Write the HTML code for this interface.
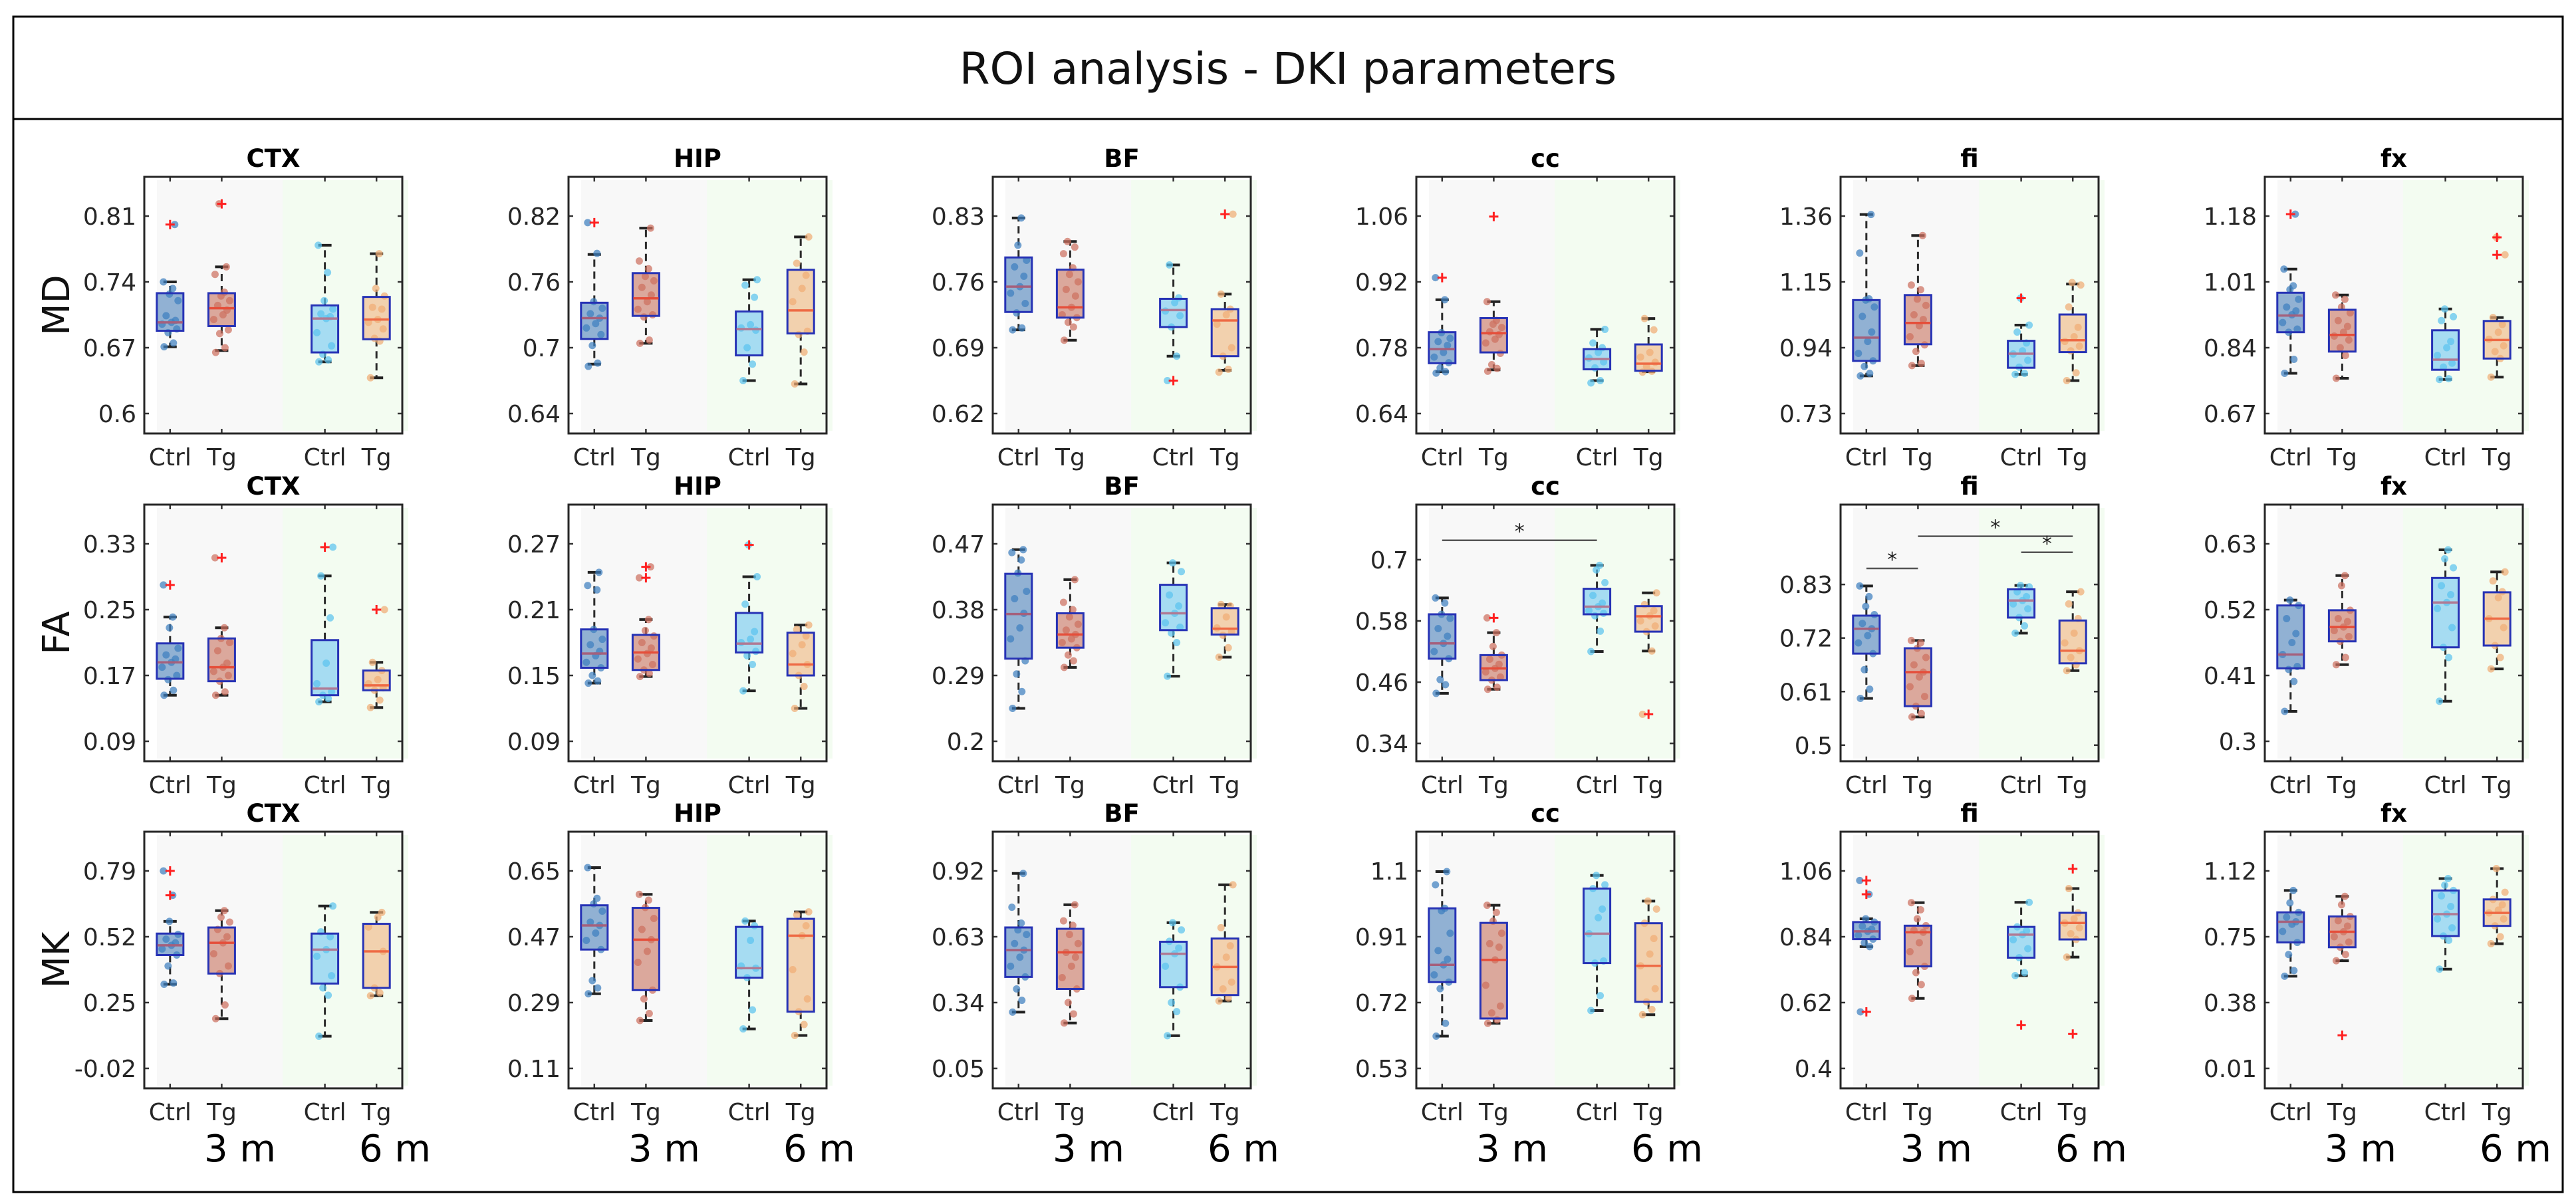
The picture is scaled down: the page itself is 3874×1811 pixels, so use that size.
<!DOCTYPE html>
<html><head><meta charset="utf-8"><title>ROI analysis - DKI parameters</title>
<style>
html,body{margin:0;padding:0;background:#fff;}
svg{display:block;font-family:"DejaVu Sans","Liberation Sans",sans-serif;}
</style></head>
<body>
<svg id="fig" width="3874" height="1811" viewBox="0 0 3874 1811" xmlns="http://www.w3.org/2000/svg">
<rect x="0" y="0" width="3874" height="1811" fill="#fff"/>
<rect x="20" y="25" width="3834" height="1768" fill="none" stroke="#000" stroke-width="3"/>
<line x1="20" y1="179" x2="3854" y2="179" stroke="#000" stroke-width="3"/>
<text x="1937" y="126" font-size="66" text-anchor="middle" fill="#111">ROI analysis - DKI parameters</text>
<g id="panels"></g>
</svg>
<script>
const regions=['CTX','HIP','BF','cc','fi','fx'];
const metrics=['MD','FA','MK'];
const groupLabels=['Ctrl','Tg','Ctrl','Tg'];
const groupPos=[1,2,4,5];
const ageLabels=['3 m','6 m'];

// tick labels per metric row, per region
const mdTicks=[['0.81','0.74','0.67','0.6'],['0.82','0.76','0.7','0.64'],['0.83','0.76','0.69','0.62'],['1.06','0.92','0.78','0.64'],['1.36','1.15','0.94','0.73'],['1.18','1.01','0.84','0.67']];
const faTicks=[['0.33','0.25','0.17','0.09'],['0.27','0.21','0.15','0.09'],['0.47','0.38','0.29','0.2'],['0.7','0.58','0.46','0.34'],['0.83','0.72','0.61','0.5'],['0.63','0.52','0.41','0.3']];
const mkTicks=[['0.79','0.52','0.25','-0.02'],['0.65','0.47','0.29','0.11'],['0.92','0.63','0.34','0.05'],['1.1','0.91','0.72','0.53'],['1.06','0.84','0.62','0.4'],['1.12','0.75','0.38','0.01']];
// explicit y limits where the axis differs from the default padding
const faLimits=[null,null,null,[0.305,0.808],[0.467,0.994],null];

// box stats: [whisker low, q1, median, q3, whisker high] for Ctrl3, Tg3, Ctrl6, Tg6
const mdStats=[
[[0.671,0.688,0.697,0.728,0.740],[0.667,0.693,0.712,0.728,0.756],[0.655,0.665,0.701,0.715,0.779],[0.638,0.679,0.700,0.724,0.770]],
[[0.685,0.708,0.727,0.741,0.785],[0.704,0.729,0.745,0.768,0.809],[0.670,0.693,0.717,0.733,0.762],[0.667,0.713,0.734,0.771,0.801]],
[[0.709,0.728,0.755,0.786,0.828],[0.698,0.722,0.733,0.773,0.803],[0.681,0.712,0.730,0.742,0.778],[0.666,0.681,0.719,0.731,0.747]],
[[0.729,0.747,0.777,0.813,0.882],[0.733,0.770,0.811,0.843,0.878],[0.710,0.734,0.756,0.777,0.819],[0.729,0.731,0.746,0.787,0.842]],
[[0.850,0.898,0.972,1.092,1.365],[0.883,0.951,1.019,1.108,1.298],[0.855,0.876,0.921,0.962,1.012],[0.835,0.926,0.964,1.046,1.143]],
[[0.774,0.880,0.923,0.982,1.043],[0.761,0.830,0.873,0.938,0.976],[0.758,0.783,0.809,0.885,0.940],[0.764,0.812,0.860,0.909,0.918]]];
const faStats=[
[[0.146,0.166,0.186,0.209,0.241],[0.146,0.163,0.180,0.215,0.228],[0.138,0.146,0.154,0.213,0.291],[0.131,0.152,0.158,0.176,0.186]],
[[0.143,0.157,0.170,0.192,0.244],[0.149,0.155,0.171,0.187,0.201],[0.136,0.171,0.179,0.207,0.240],[0.120,0.150,0.160,0.189,0.196]],
[[0.245,0.313,0.374,0.429,0.462],[0.301,0.328,0.346,0.375,0.421],[0.289,0.352,0.375,0.414,0.444],[0.315,0.346,0.354,0.382,0.387]],
[[0.438,0.506,0.536,0.593,0.625],[0.446,0.464,0.487,0.513,0.557],[0.520,0.593,0.608,0.643,0.689],[0.521,0.559,0.589,0.609,0.635]],
[[0.596,0.688,0.739,0.766,0.827],[0.558,0.580,0.650,0.699,0.715],[0.730,0.762,0.797,0.820,0.828],[0.653,0.668,0.694,0.756,0.815]],
[[0.350,0.422,0.445,0.527,0.536],[0.428,0.467,0.491,0.519,0.577],[0.367,0.457,0.532,0.573,0.620],[0.421,0.460,0.505,0.549,0.583]]];
const mkStats=[
[[0.325,0.445,0.485,0.533,0.583],[0.184,0.369,0.495,0.558,0.627],[0.112,0.328,0.467,0.533,0.646],[0.278,0.310,0.460,0.573,0.620]],
[[0.314,0.435,0.501,0.556,0.659],[0.241,0.324,0.462,0.549,0.586],[0.218,0.358,0.384,0.497,0.513],[0.200,0.265,0.473,0.519,0.538]],
[[0.298,0.453,0.571,0.671,0.909],[0.250,0.400,0.561,0.665,0.771],[0.194,0.408,0.555,0.608,0.692],[0.347,0.373,0.497,0.622,0.859]],
[[0.623,0.779,0.829,0.992,1.098],[0.660,0.674,0.843,0.950,1.001],[0.697,0.834,0.919,1.049,1.087],[0.685,0.722,0.826,0.949,1.013]],
[[0.807,0.832,0.858,0.889,0.900],[0.634,0.741,0.855,0.877,0.954],[0.710,0.770,0.847,0.873,0.955],[0.772,0.831,0.886,0.920,1.001]],
[[0.528,0.718,0.834,0.887,1.010],[0.615,0.691,0.778,0.864,0.977],[0.568,0.754,0.877,1.010,1.077],[0.711,0.811,0.884,0.960,1.133]]];

// outliers per box
const mdOutliers=[[[0.801],[0.823],[],[]],[[0.814],[],[],[]],[[],[],[0.655],[0.832]],[[0.929],[1.059],[],[]],[[],[],[1.098],[]],[[1.185],[],[],[1.125,1.080]]];
const faOutliers=[[[0.280],[0.313],[0.326],[0.250]],[[],[0.249,0.239],[0.269],[]],[[],[],[],[]],[[],[0.586],[],[0.397]],[[],[],[],[]],[[],[],[],[]]];
const mkOutliers=[[[0.79,0.69],[],[],[]],[[],[],[],[]],[[],[],[],[]],[[],[],[],[]],[[1.028,0.982,0.589],[],[0.545],[1.067,0.515]],[[],[0.196],[],[]]];

// individual animal values
const mdPoints=[
[[0.671,0.675,0.686,0.690,0.695,0.697,0.699,0.704,0.720,0.727,0.733,0.740,0.801],[0.665,0.670,0.685,0.689,0.700,0.705,0.710,0.715,0.720,0.725,0.729,0.748,0.756,0.823],[0.655,0.657,0.663,0.672,0.686,0.701,0.703,0.706,0.711,0.720,0.750,0.779],[0.638,0.677,0.680,0.690,0.697,0.700,0.711,0.713,0.725,0.733,0.770]],
[[0.683,0.686,0.702,0.712,0.718,0.722,0.727,0.731,0.736,0.742,0.786,0.814],[0.704,0.707,0.728,0.730,0.735,0.742,0.748,0.755,0.761,0.765,0.772,0.779,0.809],[0.670,0.685,0.700,0.716,0.718,0.721,0.746,0.757,0.762],[0.667,0.696,0.712,0.715,0.742,0.754,0.766,0.777,0.801]],
[[0.709,0.711,0.727,0.737,0.748,0.755,0.766,0.776,0.783,0.799,0.828],[0.698,0.712,0.717,0.722,0.725,0.733,0.745,0.752,0.760,0.768,0.775,0.790,0.797,0.803],[0.655,0.681,0.712,0.724,0.729,0.738,0.743,0.778],[0.664,0.667,0.681,0.690,0.715,0.725,0.731,0.747,0.832]],
[[0.726,0.729,0.737,0.748,0.760,0.770,0.785,0.793,0.800,0.812,0.882,0.929],[0.730,0.736,0.744,0.768,0.790,0.798,0.808,0.814,0.823,0.830,0.838,0.878],[0.705,0.710,0.737,0.750,0.758,0.770,0.780,0.790,0.819],[0.728,0.730,0.740,0.749,0.760,0.770,0.818,0.842]],
[[0.850,0.858,0.880,0.898,0.922,0.960,0.990,1.040,1.070,1.092,1.096,1.242,1.365],[0.883,0.890,0.928,0.949,0.975,1.010,1.030,1.045,1.075,1.095,1.125,1.140,1.298],[0.855,0.858,0.878,0.900,0.920,0.930,0.955,0.990,1.012,1.098],[0.835,0.860,0.930,0.945,0.960,0.975,1.005,1.070,1.140,1.148]],
[[0.774,0.810,0.880,0.888,0.905,0.925,0.935,0.945,0.965,0.990,1.000,1.043,1.185],[0.761,0.820,0.840,0.860,0.870,0.880,0.895,0.910,0.930,0.945,0.965,0.976],[0.758,0.760,0.790,0.800,0.820,0.840,0.856,0.910,0.920,0.940],[0.764,0.812,0.830,0.845,0.862,0.880,0.900,0.918,1.080,1.125]]];
const faPoints=[
[[0.146,0.152,0.165,0.170,0.180,0.186,0.190,0.195,0.203,0.228,0.241,0.280],[0.146,0.150,0.163,0.170,0.175,0.180,0.185,0.200,0.210,0.215,0.228,0.313],[0.138,0.142,0.146,0.150,0.160,0.185,0.240,0.291,0.326],[0.131,0.140,0.152,0.155,0.160,0.165,0.176,0.186,0.250]],
[[0.143,0.145,0.150,0.157,0.162,0.168,0.172,0.178,0.183,0.192,0.228,0.232,0.244],[0.149,0.152,0.155,0.160,0.165,0.170,0.175,0.180,0.186,0.191,0.201,0.239,0.249],[0.136,0.160,0.168,0.172,0.180,0.183,0.190,0.215,0.240,0.269],[0.120,0.140,0.150,0.160,0.170,0.178,0.186,0.192,0.196]],
[[0.245,0.268,0.292,0.310,0.340,0.355,0.375,0.395,0.405,0.430,0.448,0.458,0.462],[0.301,0.310,0.318,0.328,0.335,0.340,0.346,0.352,0.360,0.370,0.380,0.390,0.421],[0.289,0.335,0.348,0.356,0.362,0.375,0.385,0.400,0.432,0.444],[0.315,0.328,0.345,0.350,0.355,0.370,0.385,0.387]],
[[0.438,0.455,0.465,0.506,0.520,0.536,0.550,0.565,0.585,0.593,0.615,0.625],[0.446,0.450,0.464,0.470,0.480,0.487,0.495,0.505,0.513,0.530,0.557,0.586],[0.520,0.560,0.590,0.595,0.600,0.608,0.615,0.630,0.655,0.680,0.689],[0.397,0.521,0.559,0.570,0.580,0.590,0.600,0.612,0.635]],
[[0.596,0.615,0.655,0.688,0.710,0.725,0.739,0.750,0.768,0.785,0.805,0.827],[0.558,0.565,0.580,0.600,0.620,0.640,0.650,0.665,0.680,0.699,0.710,0.715],[0.730,0.745,0.762,0.780,0.790,0.797,0.805,0.815,0.825,0.828],[0.653,0.665,0.680,0.694,0.710,0.730,0.760,0.790,0.815]],
[[0.350,0.400,0.420,0.425,0.445,0.465,0.480,0.505,0.527,0.536],[0.428,0.440,0.467,0.475,0.485,0.491,0.500,0.505,0.519,0.560,0.577],[0.367,0.440,0.457,0.490,0.522,0.532,0.545,0.560,0.590,0.605,0.620],[0.421,0.440,0.460,0.490,0.505,0.540,0.550,0.568,0.583]]];
const mkPoints=[
[[0.325,0.330,0.400,0.445,0.470,0.485,0.495,0.510,0.530,0.583,0.690,0.790],[0.184,0.240,0.369,0.400,0.450,0.495,0.520,0.550,0.580,0.600,0.627],[0.112,0.280,0.310,0.360,0.440,0.467,0.520,0.540,0.646],[0.278,0.290,0.310,0.460,0.560,0.600,0.620]],
[[0.314,0.330,0.350,0.435,0.460,0.480,0.501,0.510,0.540,0.560,0.575,0.659],[0.241,0.260,0.300,0.324,0.400,0.430,0.462,0.490,0.520,0.550,0.570,0.586],[0.218,0.270,0.358,0.384,0.390,0.460,0.500,0.513],[0.200,0.230,0.265,0.300,0.380,0.473,0.500,0.530,0.538]],
[[0.298,0.350,0.400,0.453,0.500,0.540,0.571,0.600,0.640,0.660,0.690,0.760,0.909],[0.250,0.290,0.340,0.400,0.450,0.500,0.540,0.561,0.600,0.640,0.680,0.700,0.771],[0.194,0.300,0.340,0.408,0.500,0.555,0.580,0.610,0.660,0.692],[0.347,0.360,0.400,0.430,0.497,0.540,0.590,0.670,0.859]],
[[0.623,0.660,0.760,0.779,0.800,0.829,0.845,0.870,0.920,0.985,0.992,1.060,1.098],[0.660,0.670,0.690,0.710,0.770,0.843,0.880,0.890,0.920,0.955,0.980,1.001],[0.697,0.740,0.834,0.840,0.919,0.965,0.990,1.049,1.060,1.087],[0.685,0.700,0.722,0.760,0.826,0.860,0.905,0.949,0.990,1.013]],
[[0.589,0.807,0.820,0.832,0.845,0.858,0.865,0.875,0.889,0.900,0.982,1.028],[0.634,0.680,0.720,0.741,0.790,0.820,0.855,0.862,0.877,0.900,0.930,0.954],[0.710,0.720,0.770,0.800,0.830,0.847,0.860,0.873,0.955],[0.772,0.831,0.850,0.870,0.886,0.900,0.920,1.001]],
[[0.528,0.560,0.650,0.718,0.780,0.820,0.834,0.860,0.887,0.940,1.010],[0.615,0.650,0.691,0.720,0.750,0.778,0.810,0.840,0.864,0.930,0.977],[0.568,0.730,0.754,0.800,0.850,0.877,0.920,0.980,1.010,1.040,1.077],[0.711,0.750,0.811,0.850,0.884,0.900,0.930,0.960,1.000,1.133]]];

// significance bars (FA row): [region index, from group, to group, value]
const sigRegion=[3,4,4,4];
const sigFrom=[0,0,1,2];
const sigTo=[2,1,3,3];
const sigValue=[0.738,0.863,0.929,0.896];

const NS='http://www.w3.org/2000/svg';
const root=document.getElementById('panels');
const rowTops=[266,759,1251];
const colLefts=[217,855,1493,2130,2768,3406];
const AW=388, AH=386;
const fills=['#91b1d3','#dba89c','#a6dcf2','#f2d1ae'];
const medCols=['#a5607c','#e54e3a','#b07a94','#ee6a44'];
const ptCols=['#3f7fbf','#cd7060','#5cc4ee','#f0ad76'];
const jit=[-9,5,-3,10,-12,2,8,-6,12,-1,4,-10,7,-4];
const allStats=[mdStats,faStats,mkStats];
const allPts=[mdPoints,faPoints,mkPoints];
const allOut=[mdOutliers,faOutliers,mkOutliers];
const allTicks=[mdTicks,faTicks,mkTicks];
const allLims=[[null,null,null,null,null,null],faLimits,[null,null,null,null,null,null]];

function mk(tag,attrs,parent){const e=document.createElementNS(NS,tag);for(const k in attrs)e.setAttribute(k,attrs[k]);(parent||root).appendChild(e);return e;}

for(let r=0;r<3;r++){
  for(let c=0;c<6;c++){
    const top=rowTops[r], x0=colLefts[c];
    const ticks=allTicks[r][c].map(Number);
    const d=ticks[0]-ticks[1];
    const lim=allLims[r][c]||[ticks[3]-0.303*d, ticks[0]+0.596*d];
    const ys=v=>top+(lim[1]-v)/(lim[1]-lim[0])*AH;
    const xs=p=>x0+(p-0.5)*AW/5;
    const g=mk('g',{});
    
    
    // backgrounds
    const bg1=mk('rect',{x:xs(0.745),y:top+5,width:xs(3.18)-xs(0.745),height:AH-9,fill:'#f8f8f8'},g);
    
    
    const bg2=mk('rect',{x:xs(3.18),y:top+5,width:x0+AW+9-xs(3.18),height:AH-9,fill:'#f3fcf1'},g);
    
    
    // title
    const t=mk('text',{x:x0+AW/2,y:top-15,'font-size':37,'font-weight':'bold','text-anchor':'middle',fill:'#000'},g);
    t.textContent=regions[c];
    
    
    // y ticks and labels
    for(let i=0;i<4;i++){
      const y=ys(ticks[i]);
      mk('line',{x1:x0,x2:x0+7,y1:y,y2:y,stroke:'#333','stroke-width':2.5},g);
      mk('line',{x1:x0+AW-7,x2:x0+AW,y1:y,y2:y,stroke:'#333','stroke-width':2.5},g);
      const tl=mk('text',{x:x0-12,y:y+13,'font-size':36,'text-anchor':'end',fill:'#262626'},g);
      tl.textContent=allTicks[r][c][i];
      
      
    }
    // boxes
    for(let k=0;k<4;k++){
      const s=allStats[r][c][k];
      const cx=xs(groupPos[k]);
      const bx=mk('g',{},g);
      
      
      mk('rect',{x:cx-20,y:ys(s[3]),width:40,height:ys(s[1])-ys(s[3]),fill:fills[k]},bx);
      mk('line',{x1:cx,x2:cx,y1:ys(s[3]),y2:ys(s[4]),stroke:'#2b2b2b','stroke-width':3,'stroke-dasharray':'11 7'},bx);
      mk('line',{x1:cx,x2:cx,y1:ys(s[1]),y2:ys(s[0]),stroke:'#2b2b2b','stroke-width':3,'stroke-dasharray':'11 7'},bx);
      mk('line',{x1:cx-10,x2:cx+10,y1:ys(s[4]),y2:ys(s[4]),stroke:'#222','stroke-width':4},bx);
      mk('line',{x1:cx-10,x2:cx+10,y1:ys(s[0]),y2:ys(s[0]),stroke:'#222','stroke-width':4},bx);
      const pts=allPts[r][c][k];
      pts.forEach((v,i)=>{
        const p=mk('circle',{cx:cx+jit[i%jit.length],cy:ys(v),r:5.5,fill:ptCols[k],'fill-opacity':0.72},bx);
        
        
      });
      mk('rect',{x:cx-20,y:ys(s[3]),width:40,height:ys(s[1])-ys(s[3]),fill:'none',stroke:'#2632b5','stroke-width':3},bx);
      mk('line',{x1:cx-19,x2:cx+19,y1:ys(s[2]),y2:ys(s[2]),stroke:medCols[k],'stroke-width':3.5},bx);
      allOut[r][c][k].forEach(v=>{
        const o=mk('path',{d:`M${cx-7},${ys(v)}H${cx+7}M${cx},${ys(v)-7}V${ys(v)+7}`,stroke:'#ff2020','stroke-width':3},bx);
        
        
      });
      // x ticks
      mk('line',{x1:cx,x2:cx,y1:top+AH,y2:top+AH-7,stroke:'#333','stroke-width':2.5},g);
      mk('line',{x1:cx,x2:cx,y1:top,y2:top+7,stroke:'#333','stroke-width':2.5},g);
      const xl=mk('text',{x:cx,y:top+AH+48,'font-size':36,'text-anchor':'middle',fill:'#262626'},g);
      xl.textContent=groupLabels[k];
      
      
    }
    // frame
    const fr=mk('rect',{x:x0,y:top,width:AW,height:AH,fill:'none',stroke:'#262626','stroke-width':3},g);
    
    
    // significance
    if(r===1){
      for(let i=0;i<sigRegion.length;i++){
        if(sigRegion[i]!==c) continue;
        const y=ys(sigValue[i]);
        const xa=xs(groupPos[sigFrom[i]]), xb=xs(groupPos[sigTo[i]]);
        const sl=mk('line',{x1:xa,x2:xb,y1:y,y2:y,stroke:'#555','stroke-width':2.5},g);
        
        
        const st=mk('text',{x:(xa+xb)/2,y:y-3,'font-size':30,'text-anchor':'middle',fill:'#222'},g);
        st.textContent='*';
        
        
      }
    }
    if(c===0){
      const yl=mk('text',{x:0,y:0,'font-size':56,'text-anchor':'middle',fill:'#111',transform:`translate(104,${top+AH/2}) rotate(-90)`},g);
      yl.textContent=metrics[r];
      
      
    }
    if(r===2){
      [144,377].forEach((off,j)=>{
        const al=mk('text',{x:x0+off,y:1747,'font-size':56,'text-anchor':'middle',fill:'#000'},g);
        al.textContent=ageLabels[j];
        
        
      });
    }
  }
}
</script>
</body></html>
